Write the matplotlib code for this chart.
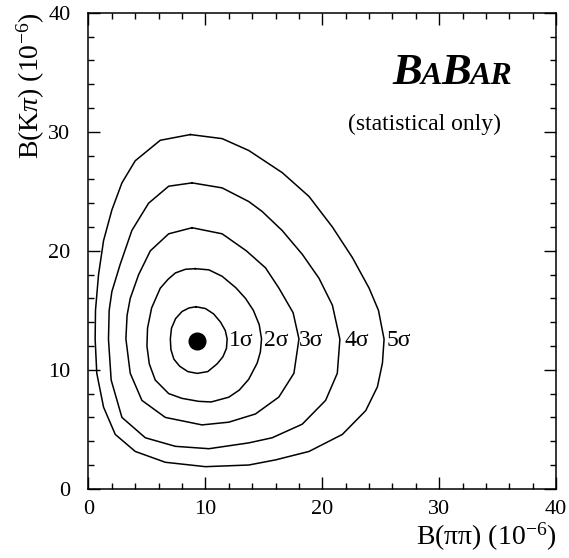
import matplotlib
matplotlib.use('Agg')
import matplotlib.pyplot as plt
from matplotlib.ticker import MultipleLocator

plt.rcParams['font.family'] = ['Liberation Serif', 'DejaVu Serif']
plt.rcParams['mathtext.fontset'] = 'custom'
plt.rcParams['mathtext.rm'] = 'Liberation Serif'
plt.rcParams['mathtext.it'] = 'Liberation Serif:italic'

# best fit point
best_x, best_y = 9.3, 12.4

# contour outlines (B(pipi), B(Kpi)) in 1e-6
c1_x = [9.2, 10.0, 10.7, 11.3, 11.7, 11.86, 11.8, 11.5, 11.0, 10.2, 9.3, 8.5, 7.8, 7.3, 7.05,
        7.0, 7.1, 7.45, 8.0, 8.6, 9.2]
c1_y = [15.3, 15.15, 14.7, 14.0, 13.3, 12.6, 11.8, 11.1, 10.5, 9.85, 9.7, 9.85, 10.3, 10.9, 11.7,
        12.6, 13.5, 14.3, 14.9, 15.2, 15.3]

c2_x = [9.14, 10.3, 11.43, 12.6, 13.43, 14.1, 14.6, 14.8, 14.7, 14.43, 13.7, 12.9, 12.0, 10.5,
        9.43, 8.0, 6.86, 5.71, 5.2, 5.0, 5.05, 5.4, 6.14, 6.8, 7.43, 8.3, 9.14]
c2_y = [18.5, 18.4, 17.86, 16.9, 16.0, 15.0, 13.8, 12.6, 11.5, 10.57, 9.2, 8.3, 7.7, 7.3,
        7.35, 7.6, 8.0, 9.14, 10.5, 12.0, 13.5, 15.2, 16.86, 17.6, 18.14, 18.45, 18.5]

c3_x = [8.86, 11.43, 13.5, 15.14, 16.29, 17.5, 18.0, 17.57, 16.28, 14.28, 12.0, 9.71, 6.57, 4.57,
        3.57, 3.2, 3.3, 3.57, 4.29, 5.29, 6.86, 8.86]
c3_y = [21.94, 21.43, 20.0, 18.57, 16.86, 14.8, 12.6, 9.71, 7.71, 6.29, 5.6, 5.37, 6.0, 7.43,
        9.71, 12.6, 14.57, 16.0, 18.0, 20.0, 21.43, 21.94]

c4_x = [8.86, 11.43, 13.71, 14.86, 16.57, 18.29, 19.71, 20.86, 21.5, 21.28, 20.28, 18.28, 15.71,
        13.71, 10.3, 7.43, 4.86, 2.86, 1.94, 1.71, 1.77, 2.0, 2.71, 3.71, 5.14, 6.86, 8.86]
c4_y = [25.71, 25.29, 24.14, 23.3, 21.7, 19.7, 17.7, 15.43, 12.57, 9.71, 7.43, 5.43, 4.29,
        3.86, 3.37, 3.57, 4.29, 6.0, 9.14, 12.57, 15.0, 16.57, 18.86, 21.71, 24.0, 25.43, 25.71]

c5_x = [8.71, 11.43, 13.71, 16.57, 18.86, 20.86, 22.57, 24.0, 24.8, 25.28, 25.14, 24.71, 23.71,
        21.71, 18.86, 16.0, 13.71, 10.0, 6.57, 4.0, 2.29, 1.29, 0.71, 0.57, 0.6, 0.86, 1.29,
        2.0, 2.86, 4.0, 6.14, 8.71]
c5_y = [29.77, 29.43, 28.43, 26.57, 24.57, 22.0, 19.43, 16.86, 15.0, 12.57, 10.57, 8.57, 6.57,
        4.57, 3.14, 2.43, 2.0, 1.86, 2.23, 3.14, 4.57, 6.86, 9.71, 12.57, 15.0, 18.0, 20.86,
        23.43, 25.71, 27.57, 29.29, 29.77]

contours = [(c1_x, c1_y), (c2_x, c2_y), (c3_x, c3_y), (c4_x, c4_y), (c5_x, c5_y)]

label_text = ['1σ', '2σ', '3σ', '4σ', '5σ']
label_x = [12.0, 15.0, 18.0, 21.9, 25.5]
label_y = 12.5

# BaBar logo pieces (small caps)
logo_parts = ['B', 'A', 'B', 'AR']
logo_sizes = [32, 23, 32, 23]

fig = plt.figure(figsize=(5.69, 5.58), dpi=100)
ax = fig.add_axes([0.1555, 0.124, 0.822, 0.853])

for cx, cy in contours:
    ax.plot(cx, cy, color='black', lw=1.1)

ax.plot(best_x, best_y, 'o', color='black', ms=12)

for t, lx in zip(label_text, label_x):
    ax.text(lx, label_y, t, fontsize=17, ha='left', va='center')

ax.set_xlim(0, 40)
ax.set_ylim(0, 40)

fig.canvas.draw()
renderer = fig.canvas.get_renderer()
xpos = 26.0
for part, fs in zip(logo_parts, logo_sizes):
    t = ax.text(xpos, 34.0, part, fontsize=fs, fontweight='bold', style='italic',
                ha='left', va='baseline')
    bb = t.get_window_extent(renderer=renderer)
    xpos = ax.transData.inverted().transform((bb.x1 - 1, bb.y0))[0]

ax.text(28.7, 30.6, '(statistical only)', fontsize=17, ha='center', va='center')

ax.xaxis.set_major_locator(MultipleLocator(10))
ax.xaxis.set_minor_locator(MultipleLocator(2))
ax.yaxis.set_major_locator(MultipleLocator(10))
ax.yaxis.set_minor_locator(MultipleLocator(2))
ax.tick_params(which='both', direction='in', top=True, right=True, labelsize=16, width=1.0)
ax.tick_params(which='major', length=8.5)
ax.tick_params(which='minor', length=4.5)
ax.tick_params(axis='x', which='major', pad=8)
ax.tick_params(axis='y', which='major', pad=13)
for s in ax.spines.values():
    s.set_linewidth(1.1)

ax.set_xlabel('B(ππ) (10$^{\\mathregular{-6}}$)', fontsize=20, loc='right', labelpad=1)
ax.set_ylabel('B(K$\\mathit{\\pi}$) (10$^{\\mathregular{-6}}$)', fontsize=20, loc='top', labelpad=1)

fig.savefig('out.png', dpi=100)
